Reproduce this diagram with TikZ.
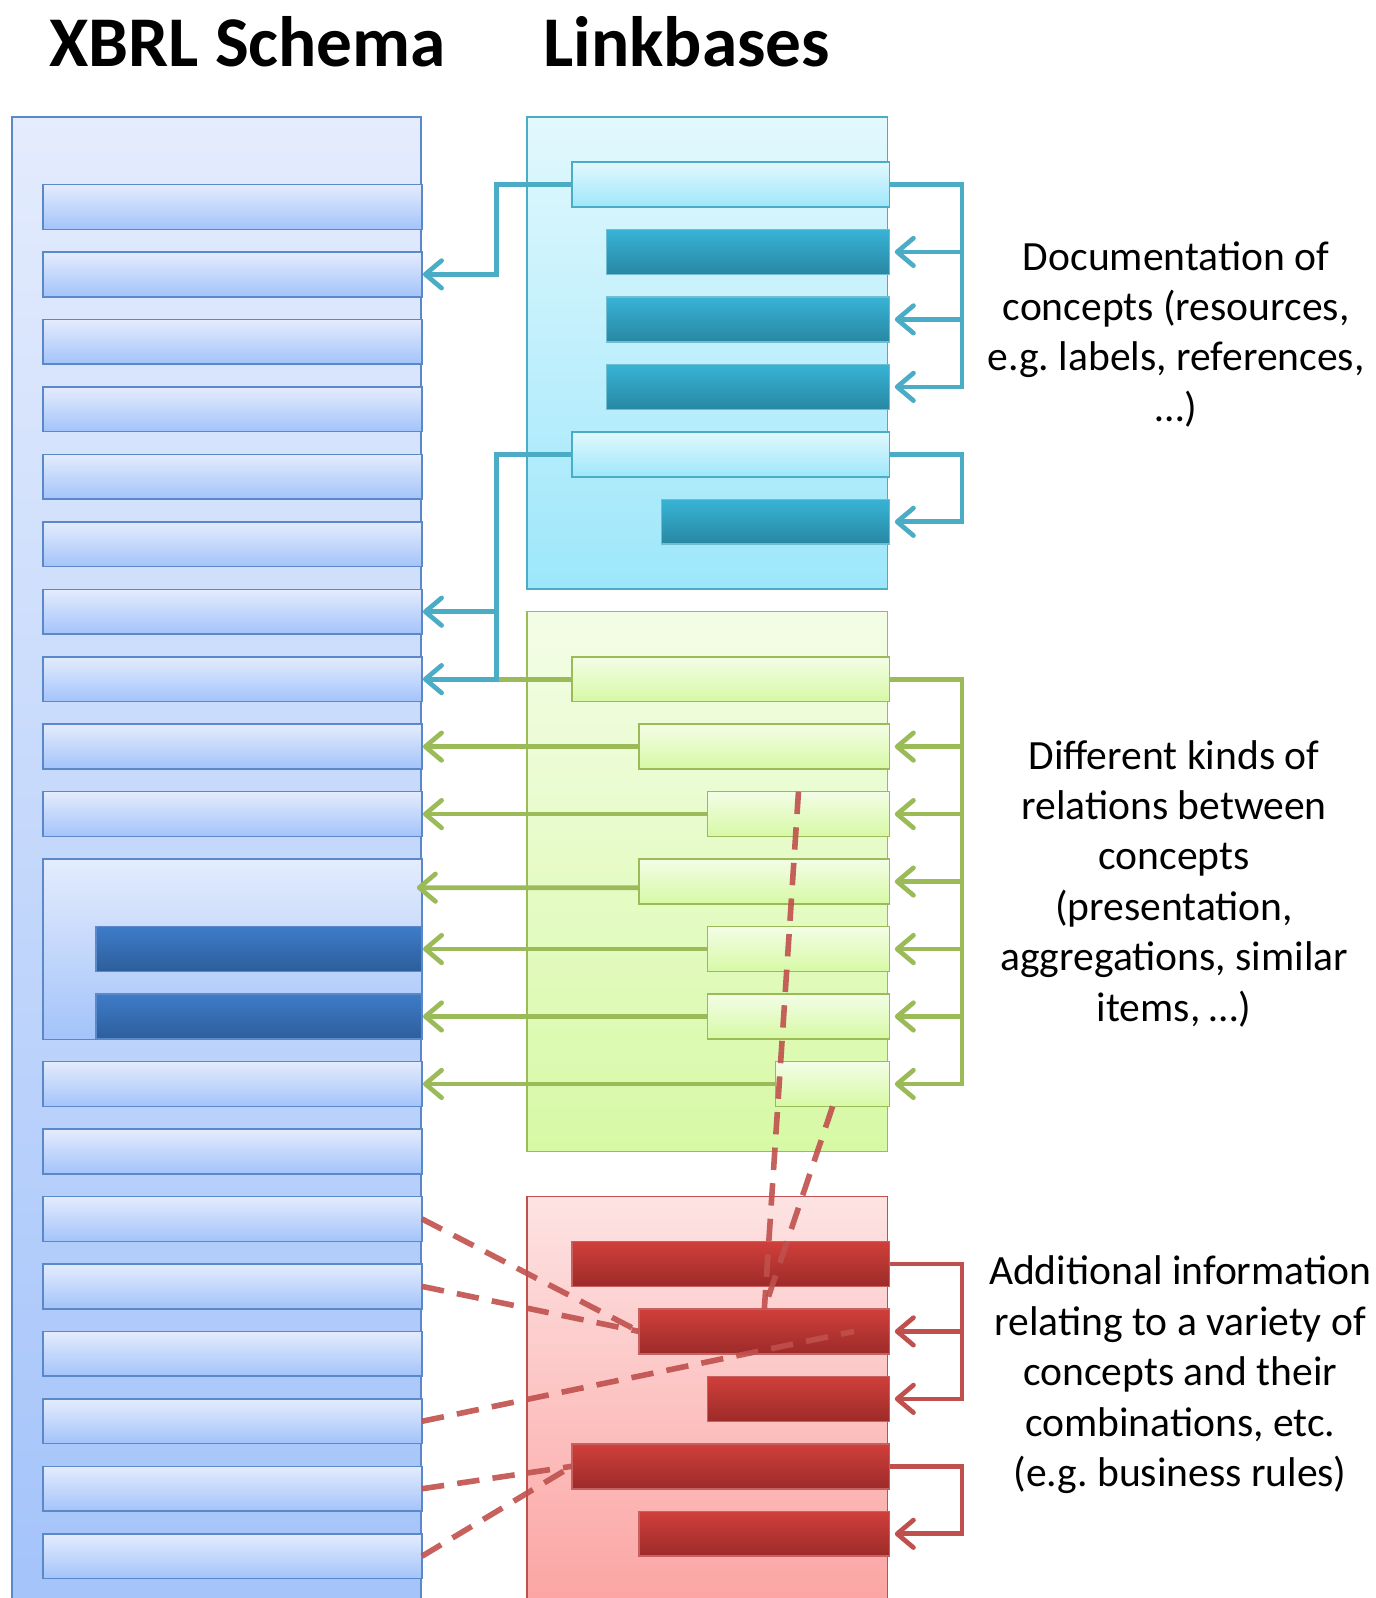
\documentclass[tikz,border=0pt]{standalone}
\usepackage{fontspec}
\setmainfont{Carlito}
\usetikzlibrary{arrows.meta,calc}
\frenchspacing

\definecolor{blueLine}{HTML}{5A88C8}
\definecolor{blueTop}{HTML}{E4ECFD}
\definecolor{blueBot}{HTML}{A3C3FA}
\definecolor{darkBlueTop}{HTML}{3E7CC8}
\definecolor{darkBlueBot}{HTML}{2D5E9C}
\definecolor{cyanLine}{HTML}{4BACC6}
\definecolor{cyanTop}{HTML}{E2F8FD}
\definecolor{cyanBot}{HTML}{9DE7FB}
\definecolor{darkCyanTop}{HTML}{38B3D5}
\definecolor{darkCyanBot}{HTML}{2887A3}
\definecolor{greenLine}{HTML}{9BBB59}
\definecolor{greenTop}{HTML}{F3FDE6}
\definecolor{greenBot}{HTML}{D7F9A5}
\definecolor{redLine}{HTML}{C0504D}
\definecolor{redTop}{HTML}{FDE3E3}
\definecolor{redBot}{HTML}{FBA3A1}
\definecolor{darkRedTop}{HTML}{D03F3B}
\definecolor{darkRedBot}{HTML}{9C2B29}

\begin{document}
\begin{tikzpicture}[x=1pt,y=-1pt,
  rect/.style={draw, inner sep=0pt, outer sep=0pt, anchor=north west,
    minimum height=44pt, line width=1.5pt},
  schemaPanel/.style={rect, draw=blueLine, top color=blueTop, bottom color=blueBot},
  schemaBar/.style={rect, draw=blueLine, top color=blueTop, bottom color=blueBot,
    minimum width=372pt},
  conceptBar/.style={rect, draw=blueLine, top color=darkBlueTop,
    bottom color=darkBlueBot, minimum width=320pt},
  cyanPanel/.style={rect, draw=cyanLine, top color=cyanTop, bottom color=cyanBot,
    minimum width=354pt},
  cyanLink/.style={rect, draw=cyanLine, top color=cyanTop, bottom color=cyanBot},
  cyanRes/.style={rect, draw=cyanLine!80, top color=darkCyanTop, bottom color=darkCyanBot},
  greenPanel/.style={rect, draw=greenLine, top color=greenTop, bottom color=greenBot,
    minimum width=354pt},
  greenLink/.style={rect, draw=greenLine, top color=greenTop, bottom color=greenBot},
  redPanel/.style={rect, draw=redLine, top color=redTop, bottom color=redBot,
    minimum width=354pt},
  redBar/.style={rect, draw=redLine!90, top color=darkRedTop, bottom color=darkRedBot},
  arr/.style={-{Straight Barb[length=16pt,width=27pt,round]}},
  cy/.style={draw=cyanLine, line width=4.6pt},
  gn/.style={draw=greenLine, line width=4.6pt},
  rd/.style={draw=redLine, line width=4.6pt},
  refline/.style={draw=redLine, line width=5.5pt, dash pattern=on 22pt off 13pt,
    draw opacity=0.9},
  title/.style={inner sep=0pt, anchor=base, font=\bfseries\fontsize{70pt}{84pt}\selectfont},
  note/.style={inner sep=0pt, align=center, font=\fontsize{40.8pt}{49.5pt}\selectfont}
]
\useasboundingbox (0,0) rectangle (1350,1568);
\clip (0,0) rectangle (1350,1568);

% headings
\node[title] (tSchema) at (243,65) {XBRL Schema};
\node[title] (tLink) at (674,65) {Linkbases};

% schema column
\node[schemaPanel, minimum width=401pt, minimum height=1470pt] (schema) at (12,115) {};
\foreach \i in {0,...,9,13,14,...,20}
  \node[schemaBar] (s\i) at (42,{181+66.2*\i}) {};
\node[schemaBar, minimum height=177pt] (g) at (42,843) {};
\node[conceptBar] (d11) at (94,{181+66.2*11}) {};
\node[conceptBar] (d12) at (94,{181+66.2*12}) {};
\coordinate (gIn) at ($(g.north east)+(-5,28)$);

% linkbase panels
\node[cyanPanel, minimum height=463pt] (cyanP) at (517,115) {};
\node[greenPanel, minimum height=530pt] (greenP) at (517,600) {};
\node[redPanel, minimum height=410pt] (redP) at (517,1174) {};

% label linkbase
\node[cyanLink, minimum width=312pt] (cA) at (561,159) {};
\node[cyanRes, minimum width=278pt] (cD1) at (595,{159+66.2}) {};
\node[cyanRes, minimum width=278pt] (cD2) at (595,{159+66.2*2}) {};
\node[cyanRes, minimum width=278pt] (cD3) at (595,{159+66.2*3}) {};
\node[cyanLink, minimum width=312pt] (cB) at (561,{159+66.2*4}) {};
\node[cyanRes, minimum width=224pt] (cD4) at (649,{159+66.2*5}) {};

% relation linkbase
\node[greenLink, minimum width=312pt] (gr1) at (561,{181+66.2*7}) {};
\node[greenLink, minimum width=246pt] (gr2) at (627,{181+66.2*8}) {};
\node[greenLink, minimum width=179pt] (gr3) at (694,{181+66.2*9}) {};
\node[greenLink, minimum width=246pt] (gr4) at (627,{181+66.2*10}) {};
\node[greenLink, minimum width=179pt] (gr5) at (694,{181+66.2*11}) {};
\node[greenLink, minimum width=179pt] (gr6) at (694,{181+66.2*12}) {};
\node[greenLink, minimum width=112pt] (gr7) at (761,{181+66.2*13}) {};

% formula linkbase
\node[redBar, minimum width=312pt] (rB1) at (561,{159+66.2*16}) {};
\node[redBar, minimum width=246pt] (rB2) at (627,{159+66.2*17}) {};
\node[redBar, minimum width=179pt] (rB3) at (694,{159+66.2*18}) {};
\node[redBar, minimum width=312pt] (rB4) at (561,{159+66.2*19}) {};
\node[redBar, minimum width=246pt] (rB5) at (627,{159+66.2*20}) {};

% cyan links to the schema
\draw[cy, arr, shorten >=1pt] (cA.west) -- ++(-74,0) |- (s1.east);
\draw[gn] (gr1.west) -- ++(-74,0);
\draw[cy, arr, shorten >=1pt] (cB.west) -- ++(-74,0) coordinate (jB) |- (s7.east);
\draw[cy, arr, shorten >=1pt] (jB |- s6.east) -- (s6.east);

% cyan resource arcs
\draw[cy, arr, shorten >=5pt] (cA.east) -- ++(71,0) coordinate (rC) |- (cD3.east);
\draw[cy, arr, shorten >=5pt] (rC |- cD1.east) -- (cD1.east);
\draw[cy, arr, shorten >=5pt] (rC |- cD2.east) -- (cD2.east);
\draw[cy, arr, shorten >=5pt] (cB.east) -- ++(71,0) |- (cD4.east);

% green links to the schema
\draw[gn, arr, shorten >=1pt] (gr2.west) -- (s8.east);
\draw[gn, arr, shorten >=1pt] (gr3.west) -- (s9.east);
\draw[gn, arr] ($(gr4.west)+(0,6)$) -- (gIn);
\draw[gn, arr, shorten >=1pt] (gr5.west) -- (d11.east);
\draw[gn, arr, shorten >=1pt] (gr6.west) -- (d12.east);
\draw[gn, arr, shorten >=1pt] (gr7.west) -- (s13.east);

% green relation arcs
\draw[gn, arr, shorten >=5pt] (gr1.east) -- ++(71,0) coordinate (rG) |- (gr7.east);
\foreach \k in {2,...,6}
  \draw[gn, arr, shorten >=5pt] (rG |- gr\k.east) -- (gr\k.east);

% red arcs
\draw[rd, arr, shorten >=5pt] (rB1.east) -- ++(71,0) coordinate (rR) |- (rB3.east);
\draw[rd, arr, shorten >=5pt] (rR |- rB2.east) -- (rB2.east);
\draw[rd, arr, shorten >=5pt] (rB4.east) -- ++(71,0) |- (rB5.east);

% dashed references
\draw[refline] (s15.east) -- (rB2.west);
\draw[refline] (s16.east) -- (rB2.west);
\draw[refline] (s18.east) -- ($(rB2.east)+(-35,0)$);
\draw[refline] (s19.east) -- (rB4.west);
\draw[refline] (s20.east) -- (rB4.west);
\draw[refline] (gr3.north) -- (rB2.north);
\draw[refline] (gr7.south) -- (rB2.north);

% descriptions
\node[note] (n1) at (1154,328) {Documentation of\\concepts (resources,\\e.g. labels, references,\\…)};
\node[note] (n2) at (1152,867) {Different kinds of\\relations between\\concepts\\(presentation,\\aggregations, similar\\items, …)};
\node[note] (n3) at (1158,1349) {Additional information\\relating to a variety of\\concepts and their\\combinations, etc.\\(e.g. business rules)};
\end{tikzpicture}
\end{document}
